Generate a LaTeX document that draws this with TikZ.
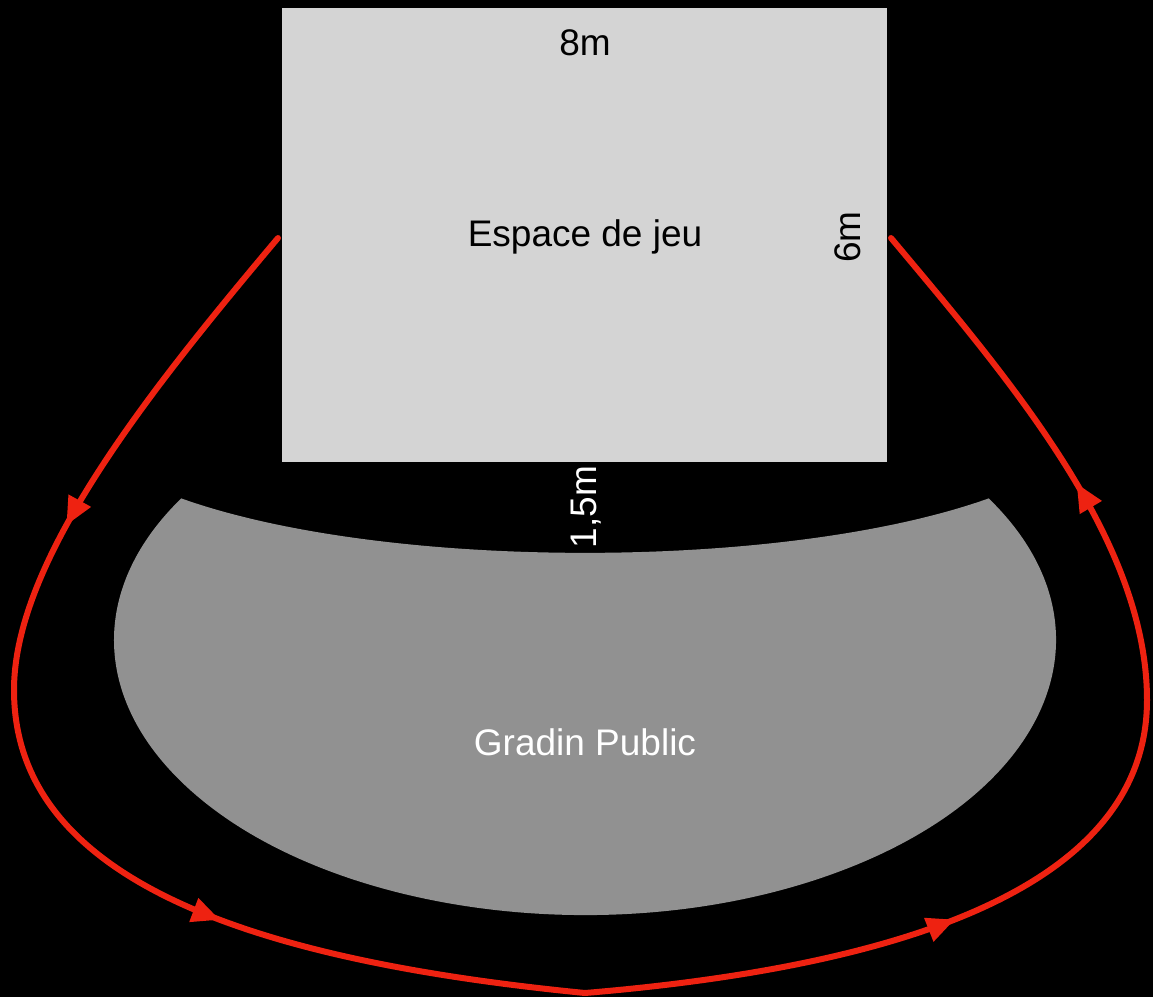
\documentclass[tikz,border=0pt]{standalone}
\usepackage{fontspec}
\setmainfont{Liberation Sans}
\usetikzlibrary{arrows.meta,decorations.markings}
\definecolor{route}{HTML}{EE2211}
\definecolor{stage}{HTML}{D4D4D4}
\definecolor{seats}{HTML}{919191}
\tikzset{
  lbl/.style={font=\fontsize{18.5}{22}\selectfont, inner sep=0pt},
  routeline/.style={draw=route, line width=3pt, line cap=round, line join=round,
    postaction={decorate},
    decoration={markings,
      mark=at position 0.145 with {\arrow{Triangle[length=14pt,width=12pt]}},
      mark=at position 0.35 with {\arrow{Triangle[length=14pt,width=12pt]}},
      mark=at position 0.655 with {\arrow{Triangle[length=14pt,width=12pt]}},
      mark=at position 0.875 with {\arrow{Triangle[length=14pt,width=12pt]}}}},
}
\begin{document}
\begin{tikzpicture}[x=0.5pt,y=-0.5pt]
\useasboundingbox (0,0) rectangle (1153,997);
\fill[black] (0,0) rectangle (1153,997);
% stage
\fill[stage] (282,8) rectangle (887,462);
% seating
\fill[seats] (988.7,498.4) arc[start angle=-31, end angle=211, x radius=471, y radius=275]
  .. controls (385,571) and (785,571) .. cycle;
% route
\coordinate (s) at (278,238);
\coordinate (l) at (14,690);
\coordinate (b) at (585,993);
\coordinate (r) at (1147,700);
\coordinate (e) at (891,238);
\path[routeline] (s) .. controls (150,390) and (14,560) .. (l)
  .. controls (14,880) and (250,960) .. (b)
  .. controls (920,965) and (1147,880) .. (r)
  .. controls (1147,540) and (1010,380) .. (e);
% labels
\node[lbl] (w) at (585,43) {8m};
\node[lbl] (t) at (585,237) {Espace de jeu};
\node[lbl, rotate=90] (h) at (848,237) {6m};
\node[lbl, rotate=90, text=white] (g) at (586,507) {1,5m};
\node[lbl, text=white] (p) at (585,742) {Gradin Public};
\end{tikzpicture}
\end{document}
